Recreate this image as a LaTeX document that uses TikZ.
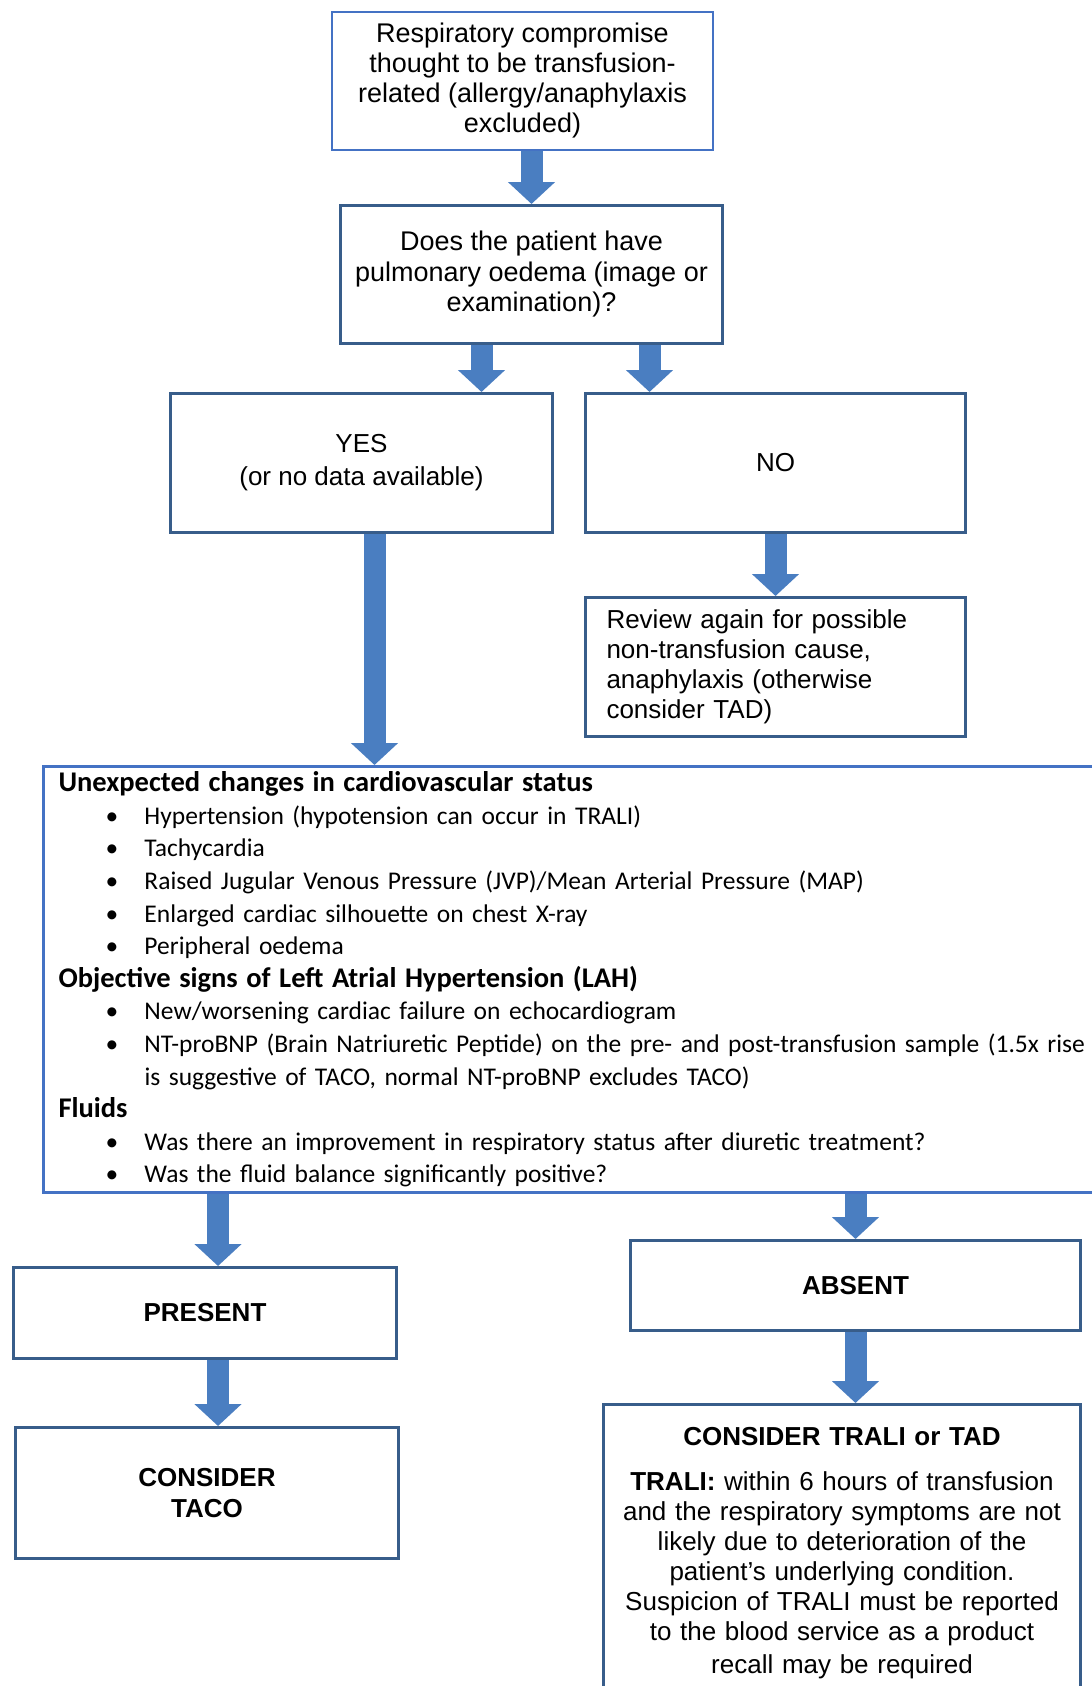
\documentclass[tikz,border=0pt]{standalone}
\usepackage{fontspec}
\setmainfont{Liberation Sans}
\newfontfamily\calibri{Carlito}
\usepackage{tikz}
\usetikzlibrary{arrows.meta, calc}

\newcommand{\bul}[1]{\hspace*{47bp}\makebox[39bp][l]{\textbullet}#1}
\newcommand{\cont}[1]{\hspace*{86bp}#1}
\newcommand{\cvhead}[1]{{\bfseries\fontsize{28.5bp}{32.6bp}\selectfont #1}}

\begin{document}
\begin{tikzpicture}[x=1bp, y=-1bp,
	box/.style={draw=darkblue, line width=3bp, fill=white, align=center, inner sep=0pt,
		anchor=north west, font=\fontsize{26bp}{30bp}\selectfont},
	lightbox/.style={box, draw=midblue, line width=2bp},
	blockarrow/.style={draw=arrowblue, line width=22bp, -{Triangle[width=46bp, length=22bp]}}
	]
	
	% Colori
	\definecolor{midblue}{RGB}{68,114,196}
	\definecolor{darkblue}{RGB}{56,93,138}
	\definecolor{arrowblue}{RGB}{74,126,193}
	
	\useasboundingbox (0,0) rectangle (1091,1686);
	
	% Domanda iniziale
	\node[lightbox, minimum width=381bp, minimum height=138bp,
		font=\fontsize{27bp}{30bp}\selectfont] (top) at (331,11)
		{Respiratory compromise\\ thought to be transfusion-\\ related (allergy/anaphylaxis\\ excluded)};
	\node[box, minimum width=382bp, minimum height=138bp,
		font=\fontsize{27bp}{30.5bp}\selectfont] (q) at (339,204)
		{Does the patient have\\ pulmonary oedema (image or\\ examination)?};
	
	% Risposte
	\node[box, minimum width=382bp, minimum height=139bp,
		font=\fontsize{26bp}{33bp}\selectfont] (yes) at (169,392)
		{YES\\ (or no data available)};
	\node[box, minimum width=380bp, minimum height=139bp] (no) at (584,392) {NO};
	\node[box, minimum width=380bp, minimum height=139bp, align=left, text width=338bp,
		inner xsep=21bp] (review) at (584,596)
		{Review again for possible\\ non-transfusion cause,\\ anaphylaxis (otherwise\\ consider TAD)};
	
	% Criteri
	\node[lightbox, line width=3bp, minimum width=1060bp, minimum height=426bp, align=left,
		text width=1030bp, inner xsep=15bp,
		font=\calibri\fontsize{25.5bp}{32.6bp}\selectfont] (cv) at (42,765)
		{\cvhead{Unexpected changes in cardiovascular status}\\
		\bul{Hypertension (hypotension can occur  in TRALI)}\\
		\bul{Tachycardia}\\
		\bul{Raised Jugular Venous Pressure (JVP)/Mean Arterial Pressure (MAP)}\\
		\bul{Enlarged cardiac silhouette on chest X-ray}\\
		\bul{Peripheral oedema}\\
		\cvhead{Objective signs of Left Atrial Hypertension (LAH)}\\
		\bul{New/worsening cardiac failure on echocardiogram}\\
		\bul{NT-proBNP (Brain Natriuretic Peptide) on the pre- and post-transfusion sample (1.5x rise}\\
		\cont{is suggestive of TACO, normal NT-proBNP  excludes TACO)}\\
		\cvhead{Fluids}\\
		\bul{Was there an improvement in respiratory status after diuretic treatment?}\\
		\bul{Was the fluid balance significantly positive?}};
	
	% Esiti
	\node[box, minimum width=383bp, minimum height=91bp, font=\bfseries\fontsize{26bp}{30bp}\selectfont]
		(present) at (12,1266) {PRESENT};
	\node[box, minimum width=383bp, minimum height=131bp, font=\bfseries\fontsize{26bp}{31bp}\selectfont]
		(taco) at (14,1426) {CONSIDER\\ TACO};
	\node[box, minimum width=450bp, minimum height=90bp, font=\bfseries\fontsize{26bp}{30bp}\selectfont]
		(absent) at (629,1239) {ABSENT};
	\node[box, minimum width=477bp, minimum height=297bp, text width=450bp] (trali) at (602,1403)
		{\textbf{CONSIDER TRALI or TAD}\\[15bp]
		\textbf{TRALI:} within 6 hours of transfusion\\ and the respiratory symptoms are not\\
		likely due to deterioration of the\\ patient’s underlying condition.\\
		Suspicion of TRALI must be reported\\ to the blood service as a product\\[3bp] recall may be required};
	
	% Frecce
	\coordinate (yin) at ([xshift=120bp]yes.north);
	\coordinate (nin) at ([xshift=-126bp]no.north);
	\coordinate (yout) at ([xshift=13bp]yes.south);
	\coordinate (pin) at ([xshift=13bp]present.north);
	
	\draw[blockarrow] (top.south -| q.north) -- (q.north);
	\draw[blockarrow] (q.south -| yin) -- (yin);
	\draw[blockarrow] (q.south -| nin) -- (nin);
	\draw[blockarrow] (no.south) -- (review.north);
	\draw[blockarrow] (yout) -- (yout |- cv.north);
	\draw[blockarrow] (cv.south -| pin) -- (pin);
	\draw[blockarrow] (cv.south -| absent.north) -- (absent.north);
	\draw[blockarrow] (pin |- present.south) -- (pin |- taco.north);
	\draw[blockarrow] (absent.south) -- (absent.south |- trali.north);
	
\end{tikzpicture}
\end{document}
